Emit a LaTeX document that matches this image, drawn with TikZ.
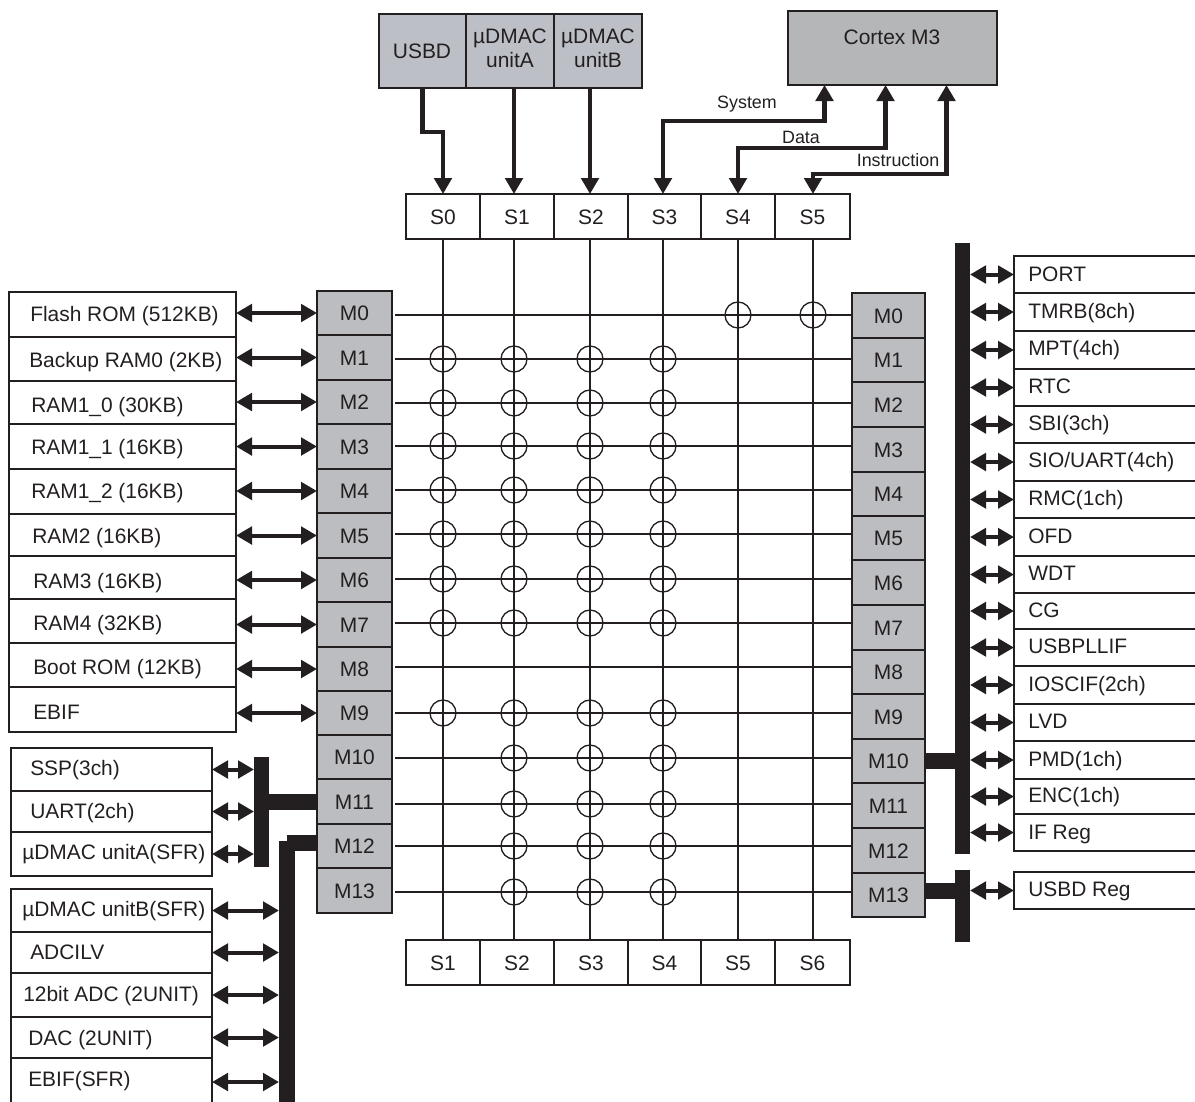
\documentclass[tikz,border=0pt]{standalone}
\usepackage{fontspec}
\setmainfont{Liberation Sans}
\usepackage{tikz}
\usetikzlibrary{arrows.meta}
\usetikzlibrary{calc}
\usetikzlibrary{fit}
\definecolor{xbink}{HTML}{231F20}
\definecolor{xbgray}{HTML}{BBBDC0}
\definecolor{xbmaster}{HTML}{BCC0C6}
\definecolor{xbcortex}{HTML}{B5B6B8}
\tikzset{
  xbcell/.style={
    draw=xbink, inner sep=0pt, outer sep=0pt, line width=1.1pt},
  xbgraycell/.style={xbcell, fill=xbgray},
  xbbus/.style={fill=xbink, inner sep=0pt, outer sep=0pt},
  xbtext/.style={anchor=west, inner sep=0pt, text height=11.3pt, text depth=0pt,
    text=xbink, font=\fontsize{15.7pt}{18pt}\selectfont},
  every label/.style={inner sep=0pt, outer sep=0pt, text height=11.3pt, text depth=0pt,
    text=xbink, font=\fontsize{15.7pt}{18pt}\selectfont},
  xbtag/.style={inner sep=0pt, text=xbink, font=\fontsize{13.4pt}{16pt}\selectfont},
  xblink/.style={draw=xbink, line width=3pt},
  xbduplex/.style={xblink, {Triangle[length=12pt, width=13pt]}-{Triangle[length=12pt, width=13pt]}},
  xbpath/.style={xbduplex, line width=3.4pt},
  xbdown/.style={xblink, line width=3.4pt, -{Triangle[length=12pt, width=13pt]}},
  xbtrunk/.style={draw=xbink, line width=12pt},
  xbline/.style={draw=xbink, line width=1pt},
  xbcross/.style={circle, draw=xbink, line width=1pt, minimum size=19.5pt, inner sep=0pt},
}
\begin{document}
\begin{tikzpicture}[x=0.75pt, y=-0.75pt]
\useasboundingbox (0, 0) rectangle (1195, 1101);

% Bus masters.
\node[xbcell, fill=xbmaster, fit={(379, 14) (466, 88)}] (usbd) {};
\node[xbcell, fill=xbmaster, fit={(466, 14) (554, 88)}] (unita) {};
\node[xbcell, fill=xbmaster, fit={(554, 14) (642, 88)}] (unitb) {};
\node[xbcell, fill=xbcortex, fit={(788, 11) (997, 85)}] (cortex) {};
\node[xbtext, anchor=center] (usbdtext) at (422, 51) {USBD};
\node[xbtext, anchor=center] (unitatext) at (510, 36) {µDMAC};
\node[xbtext, anchor=center] (unitatext2) at (510, 60) {unitA};
\node[xbtext, anchor=center] (unitbtext) at (598, 36) {µDMAC};
\node[xbtext, anchor=center] (unitbtext2) at (598, 60) {unitB};
\node[xbtext, anchor=center] (cortextext) at (892, 37) {Cortex M3};

% Top slave row.
\node[xbcell, fit={(406, 194) (480, 239)}, label=center:S0] (st0) {};
\node[xbcell, fit={(480, 194) (554, 239)}, label=center:S1] (st1) {};
\node[xbcell, fit={(554, 194) (628, 239)}, label=center:S2] (st2) {};
\node[xbcell, fit={(628, 194) (701, 239)}, label=center:S3] (st3) {};
\node[xbcell, fit={(701, 194) (775, 239)}, label=center:S4] (st4) {};
\node[xbcell, fit={(775, 194) (850, 239)}, label=center:S5] (st5) {};

% Bottom slave row.
\node[xbcell, fit={(406, 940) (480, 985)}, label=center:S1] (sb1) {};
\node[xbcell, fit={(480, 940) (554, 985)}, label=center:S2] (sb2) {};
\node[xbcell, fit={(554, 940) (628, 985)}, label=center:S3] (sb3) {};
\node[xbcell, fit={(628, 940) (701, 985)}, label=center:S4] (sb4) {};
\node[xbcell, fit={(701, 940) (775, 985)}, label=center:S5] (sb5) {};
\node[xbcell, fit={(775, 940) (850, 985)}, label=center:S6] (sb6) {};

% Left M column.
\node[xbgraycell, fit={(317, 291) (392, 335)}, label=center:M0] (lm0) {};
\node[xbgraycell, fit={(317, 335) (392, 380)}, label=center:M1] (lm1) {};
\node[xbgraycell, fit={(317, 380) (392, 424)}, label=center:M2] (lm2) {};
\node[xbgraycell, fit={(317, 424) (392, 469)}, label=center:M3] (lm3) {};
\node[xbgraycell, fit={(317, 469) (392, 513)}, label=center:M4] (lm4) {};
\node[xbgraycell, fit={(317, 513) (392, 558)}, label=center:M5] (lm5) {};
\node[xbgraycell, fit={(317, 558) (392, 602)}, label=center:M6] (lm6) {};
\node[xbgraycell, fit={(317, 602) (392, 647)}, label=center:M7] (lm7) {};
\node[xbgraycell, fit={(317, 647) (392, 691)}, label=center:M8] (lm8) {};
\node[xbgraycell, fit={(317, 691) (392, 735)}, label=center:M9] (lm9) {};
\node[xbgraycell, fit={(317, 735) (392, 779)}, label=center:M10] (lm10) {};
\node[xbgraycell, fit={(317, 779) (392, 824)}, label=center:M11] (lm11) {};
\node[xbgraycell, fit={(317, 824) (392, 868)}, label=center:M12] (lm12) {};
\node[xbgraycell, fit={(317, 868) (392, 913)}, label=center:M13] (lm13) {};

% Right M column.
\node[xbgraycell, fit={(852, 293) (925, 338)}, label=center:M0] (rm0) {};
\node[xbgraycell, fit={(852, 338) (925, 382)}, label=center:M1] (rm1) {};
\node[xbgraycell, fit={(852, 382) (925, 427)}, label=center:M2] (rm2) {};
\node[xbgraycell, fit={(852, 427) (925, 472)}, label=center:M3] (rm3) {};
\node[xbgraycell, fit={(852, 472) (925, 516)}, label=center:M4] (rm4) {};
\node[xbgraycell, fit={(852, 516) (925, 560)}, label=center:M5] (rm5) {};
\node[xbgraycell, fit={(852, 560) (925, 605)}, label=center:M6] (rm6) {};
\node[xbgraycell, fit={(852, 605) (925, 650)}, label=center:M7] (rm7) {};
\node[xbgraycell, fit={(852, 650) (925, 694)}, label=center:M8] (rm8) {};
\node[xbgraycell, fit={(852, 694) (925, 739)}, label=center:M9] (rm9) {};
\node[xbgraycell, fit={(852, 739) (925, 783)}, label=center:M10] (rm10) {};
\node[xbgraycell, fit={(852, 783) (925, 828)}, label=center:M11] (rm11) {};
\node[xbgraycell, fit={(852, 828) (925, 873)}, label=center:M12] (rm12) {};
\node[xbgraycell, fit={(852, 873) (925, 917)}, label=center:M13] (rm13) {};

% Grid positions.
\coordinate (v0) at (443, 239);
\coordinate (v1) at (514, 239);
\coordinate (v2) at (590, 239);
\coordinate (v3) at (663, 239);
\coordinate (v4) at (738, 239);
\coordinate (v5) at (813, 239);
\coordinate (h0) at (395, 315);
\coordinate (h1) at (395, 359);
\coordinate (h2) at (395, 403);
\coordinate (h3) at (395, 446);
\coordinate (h4) at (395, 490);
\coordinate (h5) at (395, 534);
\coordinate (h6) at (395, 579);
\coordinate (h7) at (395, 623);
\coordinate (h8) at (395, 667);
\coordinate (h9) at (395, 713);
\coordinate (h10) at (395, 758);
\coordinate (h11) at (395, 804);
\coordinate (h12) at (395, 846);
\coordinate (h13) at (395, 892);

% Crossbar lines.
\draw[xbline] (v0 |- st0.south) -- (v0 |- sb1.north);
\draw[xbline] (v1 |- st1.south) -- (v1 |- sb2.north);
\draw[xbline] (v2 |- st2.south) -- (v2 |- sb3.north);
\draw[xbline] (v3 |- st3.south) -- (v3 |- sb4.north);
\draw[xbline] (v4 |- st4.south) -- (v4 |- sb5.north);
\draw[xbline] (v5 |- st5.south) -- (v5 |- sb6.north);
\draw[xbline] (h0) -- (rm0.west |- h0);
\draw[xbline] (h1) -- (rm1.west |- h1);
\draw[xbline] (h2) -- (rm2.west |- h2);
\draw[xbline] (h3) -- (rm3.west |- h3);
\draw[xbline] (h4) -- (rm4.west |- h4);
\draw[xbline] (h5) -- (rm5.west |- h5);
\draw[xbline] (h6) -- (rm6.west |- h6);
\draw[xbline] (h7) -- (rm7.west |- h7);
\draw[xbline] (h8) -- (rm8.west |- h8);
\draw[xbline] (h9) -- (rm9.west |- h9);
\draw[xbline] (h10) -- (rm10.west |- h10);
\draw[xbline] (h11) -- (rm11.west |- h11);
\draw[xbline] (h12) -- (rm12.west |- h12);
\draw[xbline] (h13) -- (rm13.west |- h13);

% Crossings.
\node[xbcross] (c0s4) at (v4 |- h0) {}; \node[xbcross] (c0s5) at (v5 |- h0) {};
\node[xbcross] (c1s0) at (v0 |- h1) {}; \node[xbcross] (c1s1) at (v1 |- h1) {};
\node[xbcross] (c1s2) at (v2 |- h1) {}; \node[xbcross] (c1s3) at (v3 |- h1) {};
\node[xbcross] (c2s0) at (v0 |- h2) {}; \node[xbcross] (c2s1) at (v1 |- h2) {};
\node[xbcross] (c2s2) at (v2 |- h2) {}; \node[xbcross] (c2s3) at (v3 |- h2) {};
\node[xbcross] (c3s0) at (v0 |- h3) {}; \node[xbcross] (c3s1) at (v1 |- h3) {};
\node[xbcross] (c3s2) at (v2 |- h3) {}; \node[xbcross] (c3s3) at (v3 |- h3) {};
\node[xbcross] (c4s0) at (v0 |- h4) {}; \node[xbcross] (c4s1) at (v1 |- h4) {};
\node[xbcross] (c4s2) at (v2 |- h4) {}; \node[xbcross] (c4s3) at (v3 |- h4) {};
\node[xbcross] (c5s0) at (v0 |- h5) {}; \node[xbcross] (c5s1) at (v1 |- h5) {};
\node[xbcross] (c5s2) at (v2 |- h5) {}; \node[xbcross] (c5s3) at (v3 |- h5) {};
\node[xbcross] (c6s0) at (v0 |- h6) {}; \node[xbcross] (c6s1) at (v1 |- h6) {};
\node[xbcross] (c6s2) at (v2 |- h6) {}; \node[xbcross] (c6s3) at (v3 |- h6) {};
\node[xbcross] (c7s0) at (v0 |- h7) {}; \node[xbcross] (c7s1) at (v1 |- h7) {};
\node[xbcross] (c7s2) at (v2 |- h7) {}; \node[xbcross] (c7s3) at (v3 |- h7) {};
\node[xbcross] (c9s0) at (v0 |- h9) {}; \node[xbcross] (c9s1) at (v1 |- h9) {};
\node[xbcross] (c9s2) at (v2 |- h9) {}; \node[xbcross] (c9s3) at (v3 |- h9) {};
\node[xbcross] (c10s1) at (v1 |- h10) {}; \node[xbcross] (c10s2) at (v2 |- h10) {};
\node[xbcross] (c10s3) at (v3 |- h10) {};
\node[xbcross] (c11s1) at (v1 |- h11) {}; \node[xbcross] (c11s2) at (v2 |- h11) {};
\node[xbcross] (c11s3) at (v3 |- h11) {};
\node[xbcross] (c12s1) at (v1 |- h12) {}; \node[xbcross] (c12s2) at (v2 |- h12) {};
\node[xbcross] (c12s3) at (v3 |- h12) {};
\node[xbcross] (c13s1) at (v1 |- h13) {}; \node[xbcross] (c13s2) at (v2 |- h13) {};
\node[xbcross] (c13s3) at (v3 |- h13) {};

% Links from the masters.
\draw[xbdown] (usbd.south) -- ++(0, 44) -| (v0 |- st0.north);
\draw[xbdown] (v1 |- unita.south) -- (v1 |- st1.north);
\draw[xbdown] (v2 |- unitb.south) -- (v2 |- st2.north);
\draw[xbpath] (v3 |- st3.north) |- ($(cortex.south)+(-68, 36)$) -- ($(cortex.south)+(-68, 0)$);
\draw[xbpath] (v4 |- st4.north) |- ($(cortex.south)+(-7, 63)$) -- ($(cortex.south)+(-7, 0)$);
\draw[xbpath] (v5 |- st5.north) |- ($(cortex.south)+(54, 89)$) -- ($(cortex.south)+(54, 0)$);
\node[xbtag] (systemtag) at (747, 104) {System};
\node[xbtag] (datatag) at (801, 137) {Data};
\node[xbtag] (instructiontag) at (898, 160) {Instruction};

% Memories on the left.
\node[xbcell, fit={(9, 292) (236, 337)}] (flash) {};
\node[xbcell, fit={(9, 337) (236, 381)}] (ram0) {};
\node[xbcell, fit={(9, 381) (236, 424)}] (ram10) {};
\node[xbcell, fit={(9, 424) (236, 469)}] (ram11) {};
\node[xbcell, fit={(9, 469) (236, 514)}] (ram12) {};
\node[xbcell, fit={(9, 514) (236, 556)}] (ram2) {};
\node[xbcell, fit={(9, 556) (236, 599)}] (ram3) {};
\node[xbcell, fit={(9, 599) (236, 643)}] (ram4) {};
\node[xbcell, fit={(9, 643) (236, 687)}] (boot) {};
\node[xbcell, fit={(9, 687) (236, 732)}] (ebif) {};
\node[xbtext] (flashtext) at (30, 314) {Flash ROM (512KB)};
\node[xbtext] (ram0text) at (29, 360) {Backup RAM0 (2KB)};
\node[xbtext] (ram10text) at (31, 405) {RAM1\_0 (30KB)};
\node[xbtext] (ram11text) at (31, 447) {RAM1\_1 (16KB)};
\node[xbtext] (ram12text) at (31, 491) {RAM1\_2 (16KB)};
\node[xbtext] (ram2text) at (32, 536) {RAM2 (16KB)};
\node[xbtext] (ram3text) at (33, 581) {RAM3 (16KB)};
\node[xbtext] (ram4text) at (33, 623) {RAM4 (32KB)};
\node[xbtext] (boottext) at (33, 667) {Boot ROM (12KB)};
\node[xbtext] (ebiftext) at (33, 712) {EBIF};
\draw[xbduplex] (flash.east |- lm0.west) -- (lm0.west);
\draw[xbduplex] (ram0.east |- lm1.west) -- (lm1.west);
\draw[xbduplex] (ram10.east |- lm2.west) -- (lm2.west);
\draw[xbduplex] (ram11.east |- lm3.west) -- (lm3.west);
\draw[xbduplex] (ram12.east |- lm4.west) -- (lm4.west);
\draw[xbduplex] (ram2.east |- lm5.west) -- (lm5.west);
\draw[xbduplex] (ram3.east |- lm6.west) -- (lm6.west);
\draw[xbduplex] (ram4.east |- lm7.west) -- (lm7.west);
\draw[xbduplex] (boot.east |- lm8.west) -- (lm8.west);
\draw[xbduplex] (ebif.east |- lm9.west) -- (lm9.west);

% M11 peripherals.
\node[xbbus, fit={(254, 757) (269, 867)}] (busa) {};
\draw[xbtrunk] (busa.east |- lm11.west) -- (lm11.west);
\node[xbcell, fit={(11, 748) (212, 791)}] (ssp) {};
\node[xbcell, fit={(11, 791) (212, 832)}] (uart) {};
\node[xbcell, fit={(11, 832) (212, 876)}] (sfra) {};
\node[xbtext] (ssptext) at (30, 768) {SSP(3ch)};
\node[xbtext] (uarttext) at (30, 811) {UART(2ch)};
\node[xbtext] (sfratext) at (22, 852) {µDMAC unitA(SFR)};
\draw[xbduplex] (ssp.east) -- (ssp.east -| busa.west);
\draw[xbduplex] (uart.east) -- (uart.east -| busa.west);
\draw[xbduplex] (sfra.east) -- (sfra.east -| busa.west);

% M12 peripherals.
\node[xbbus, fit={(279, 841) (295, 1105)}] (busb) {};
\draw[xbtrunk] ([yshift=2.25pt]lm12.west) -- ([yshift=2.25pt]lm12.west -| busb.north);
\node[xbcell, fit={(11, 889) (212, 932)}] (sfrb) {};
\node[xbcell, fit={(11, 932) (212, 973)}] (adcilv) {};
\node[xbcell, fit={(11, 973) (212, 1017)}] (adc) {};
\node[xbcell, fit={(11, 1017) (212, 1058)}] (dac) {};
\node[xbcell, fit={(11, 1058) (212, 1106)}] (ebifsfr) {};
\node[xbtext] (sfrbtext) at (22, 909) {µDMAC unitB(SFR)};
\node[xbtext] (adcilvtext) at (30, 952) {ADCILV};
\node[xbtext] (adctext) at (23, 994) {12bit ADC (2UNIT)};
\node[xbtext] (dactext) at (28, 1038) {DAC (2UNIT)};
\node[xbtext] (ebifsfrtext) at (28, 1079) {EBIF(SFR)};
\draw[xbduplex] (sfrb.east) -- (sfrb.east -| busb.west);
\draw[xbduplex] (adcilv.east) -- (adcilv.east -| busb.west);
\draw[xbduplex] (adc.east) -- (adc.east -| busb.west);
\draw[xbduplex] (dac.east) -- (dac.east -| busb.west);
\draw[xbduplex] (ebifsfr.east) -- (ebifsfr.east -| busb.west);

% M10 peripherals.
\node[xbbus, fit={(955, 243) (970, 854)}] (busc) {};
\draw[xbtrunk] (rm10.east) -- (rm10.east -| busc.west);
\node[xbcell, fit={(1014, 256) (1200, 293)}] (port) {};
\node[xbcell, fit={(1014, 293) (1200, 331)}] (tmrb) {};
\node[xbcell, fit={(1014, 331) (1200, 369)}] (mpt) {};
\node[xbcell, fit={(1014, 369) (1200, 406)}] (rtc) {};
\node[xbcell, fit={(1014, 406) (1200, 443)}] (sbi) {};
\node[xbcell, fit={(1014, 443) (1200, 481)}] (sio) {};
\node[xbcell, fit={(1014, 481) (1200, 518)}] (rmc) {};
\node[xbcell, fit={(1014, 518) (1200, 556)}] (ofd) {};
\node[xbcell, fit={(1014, 556) (1200, 593)}] (wdt) {};
\node[xbcell, fit={(1014, 593) (1200, 629)}] (cg) {};
\node[xbcell, fit={(1014, 629) (1200, 666)}] (usbpll) {};
\node[xbcell, fit={(1014, 666) (1200, 704)}] (ioscif) {};
\node[xbcell, fit={(1014, 704) (1200, 741)}] (lvd) {};
\node[xbcell, fit={(1014, 741) (1200, 779)}] (pmd) {};
\node[xbcell, fit={(1014, 779) (1200, 814)}] (enc) {};
\node[xbcell, fit={(1014, 814) (1200, 851)}] (ifreg) {};
\node[xbtext] (porttext) at (1028, 274) {PORT};
\node[xbtext] (tmrbtext) at (1028, 311) {TMRB(8ch)};
\node[xbtext] (mpttext) at (1028, 348) {MPT(4ch)};
\node[xbtext] (rtctext) at (1028, 386) {RTC};
\node[xbtext] (sbitext) at (1028, 423) {SBI(3ch)};
\node[xbtext] (siotext) at (1028, 460) {SIO/UART(4ch)};
\node[xbtext] (rmctext) at (1028, 498) {RMC(1ch)};
\node[xbtext] (ofdtext) at (1028, 536) {OFD};
\node[xbtext] (wdttext) at (1028, 573) {WDT};
\node[xbtext] (cgtext) at (1028, 610) {CG};
\node[xbtext] (usbplltext) at (1028, 646) {USBPLLIF};
\node[xbtext] (ioscuftext) at (1028, 684) {IOSCIF(2ch)};
\node[xbtext] (lvdtext) at (1028, 721) {LVD};
\node[xbtext] (pmdtext) at (1028, 759) {PMD(1ch)};
\node[xbtext] (enctext) at (1028, 795) {ENC(1ch)};
\node[xbtext] (ifregtext) at (1028, 832) {IF Reg};
\draw[xbduplex] (busc.east |- port.west) -- (port.west);
\draw[xbduplex] (busc.east |- tmrb.west) -- (tmrb.west);
\draw[xbduplex] (busc.east |- mpt.west) -- (mpt.west);
\draw[xbduplex] (busc.east |- rtc.west) -- (rtc.west);
\draw[xbduplex] (busc.east |- sbi.west) -- (sbi.west);
\draw[xbduplex] (busc.east |- sio.west) -- (sio.west);
\draw[xbduplex] (busc.east |- rmc.west) -- (rmc.west);
\draw[xbduplex] (busc.east |- ofd.west) -- (ofd.west);
\draw[xbduplex] (busc.east |- wdt.west) -- (wdt.west);
\draw[xbduplex] (busc.east |- cg.west) -- (cg.west);
\draw[xbduplex] (busc.east |- usbpll.west) -- (usbpll.west);
\draw[xbduplex] (busc.east |- ioscif.west) -- (ioscif.west);
\draw[xbduplex] (busc.east |- lvd.west) -- (lvd.west);
\draw[xbduplex] (busc.east |- pmd.west) -- (pmd.west);
\draw[xbduplex] (busc.east |- enc.west) -- (enc.west);
\draw[xbduplex] (busc.east |- ifreg.west) -- (ifreg.west);

% M13 register block.
\node[xbbus, fit={(955, 870) (970, 942)}] (busd) {};
\node[xbcell, fit={(1014, 872) (1200, 909)}] (usbdreg) {};
\node[xbtext] (usbdregtext) at (1028, 889) {USBD Reg};
\draw[xbtrunk] (rm13.east |- usbdreg.west) -- (busd.west |- usbdreg.west);
\draw[xbduplex] (busd.east |- usbdreg.west) -- (usbdreg.west);

\end{tikzpicture}
\end{document}
